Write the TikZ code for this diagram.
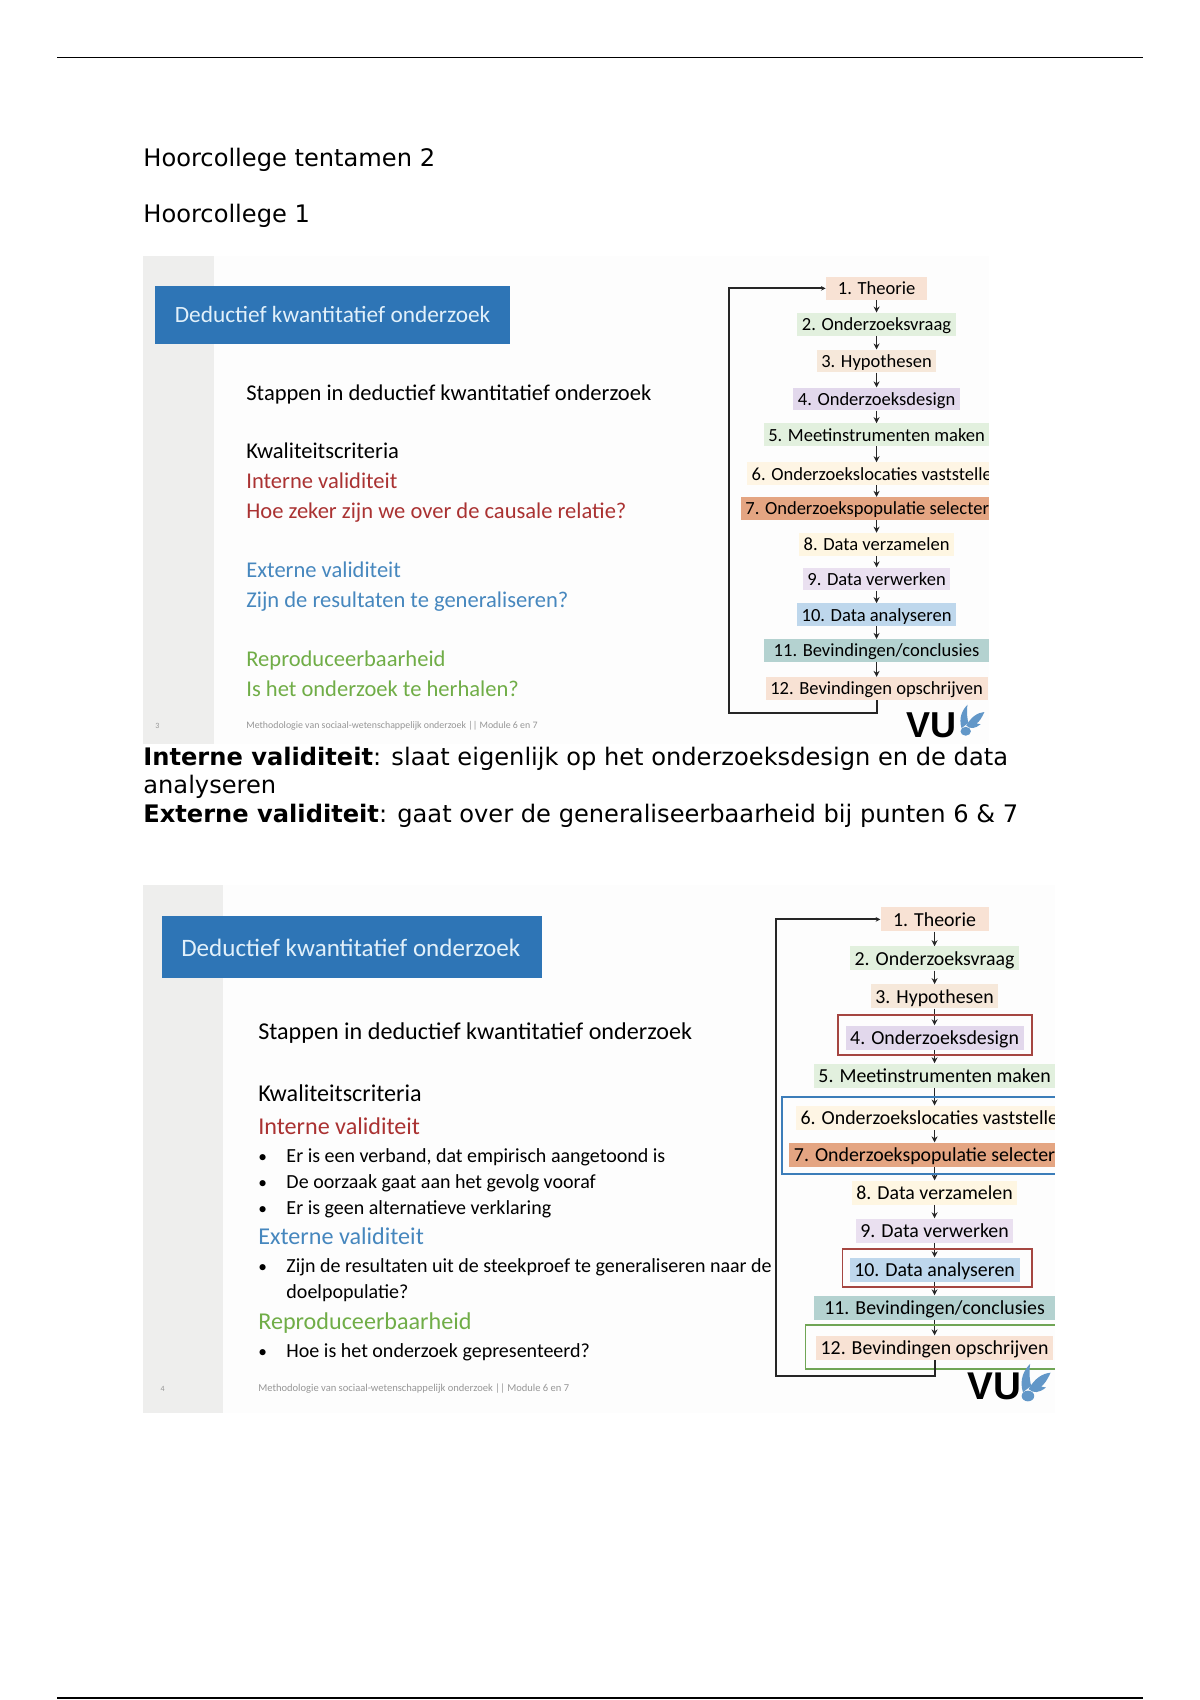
\documentclass[tikz,border=0pt]{standalone}
\usepackage{fontspec}
\usepackage{tikz}
\usetikzlibrary{arrows.meta, positioning}
\setmainfont{DejaVu Sans}
\newfontfamily\slidefont{Carlito}
\newfontfamily\logofont{Liberation Sans}
\definecolor{slidegray}{RGB}{238, 238, 237}
\definecolor{slidewhite}{RGB}{253, 253, 253}
\definecolor{titleblue}{RGB}{46, 117, 182}
\definecolor{titletext}{RGB}{225, 240, 250}
\definecolor{internred}{RGB}{170, 50, 50}
\definecolor{externblue}{RGB}{70, 135, 190}
\definecolor{reprogreen}{RGB}{112, 173, 71}
\definecolor{footgray}{RGB}{150, 150, 150}
\definecolor{boxred}{RGB}{165, 70, 65}
\definecolor{boxblue}{RGB}{60, 125, 185}
\definecolor{boxgreen}{RGB}{112, 165, 85}
\definecolor{stepa}{RGB}{248, 226, 212}
\definecolor{stepb}{RGB}{226, 240, 222}
\definecolor{stepc}{RGB}{246, 232, 218}
\definecolor{stepd}{RGB}{226, 216, 236}
\definecolor{stepe}{RGB}{226, 240, 222}
\definecolor{stepf}{RGB}{254, 245, 228}
\definecolor{stepg}{RGB}{228, 165, 130}
\definecolor{steph}{RGB}{254, 246, 226}
\definecolor{stepi}{RGB}{234, 224, 240}
\definecolor{stepj}{RGB}{190, 215, 236}
\definecolor{stepk}{RGB}{180, 210, 208}
\definecolor{stepl}{RGB}{248, 226, 212}
\tikzset{
  bodytext/.style={anchor=base west, inner sep=0pt, font=\fontsize{18.1}{22}\selectfont},
  slidetext/.style={anchor=base west, inner sep=0pt, yshift=-0.8pt, font=\slidefont\fontsize{#1}{#1}\selectfont},
  slidetitle/.style={anchor=west, inner sep=0pt, text=titletext, font=\slidefont\fontsize{#1}{#1}\selectfont},
  foottext/.style={anchor=base west, inner sep=0pt, text=footgray, font=\slidefont\fontsize{#1}{#1}\selectfont},
  stepbox/.style={inner xsep=3.5pt, inner ysep=0pt, minimum height=#1, text depth=0pt},
  widebox11/.style={inner xsep=7.5pt},
  flow/.style={-{Stealth[length=4.5pt, width=4.5pt]}, black!85, line width=0.9pt},
  feedback/.style={-{Stealth[length=3.5pt, width=3.5pt]}, black!85, line width=1.4pt},
  outline/.style={draw=#1, line width=1.3pt, fill=none},
  vubird/.pic={
    \fill[titleblue!75] (0.12,-0.1) .. controls (0,-0.5) and (0.15,-0.8) .. (0.35,-1) .. controls (0.3,-0.7) and (0.35,-0.45) .. (0.38,-0.3) -- cycle;
    \fill[titleblue!75] (0.3,-0.2) .. controls (0.5,-0.55) and (0.75,-0.7) .. (1,-0.72) .. controls (0.9,-0.5) and (0.8,-0.35) .. (0.7,-0.28) .. controls (0.75,-0.28) and (0.8,-0.25) .. (0.85,-0.25) .. controls (0.65,-0.08) and (0.45,-0.05) .. (0.3,-0.2) -- cycle;
    \fill[titleblue!75] (0.28,0.02) ellipse (0.2 and 0.17);
  }
}
\begin{document}
\begin{tikzpicture}[x=0.8131pt, y=-0.8131pt]
  \useasboundingbox (0,0) rectangle (1106.8,1568);
  \fill[white] (0,0) rectangle (1106.8,1568);

  % page rules and page text
  \draw[black, line width=1pt] (53,53) -- (1054,53);
  \draw[black, line width=1pt] (53,1566) -- (1054,1566);
  \node[bodytext] (kop) at (132,153.5) {Hoorcollege tentamen 2};
  \node[bodytext] (college) at (132,205) {Hoorcollege 1};
  \node[bodytext] (noteA) at (132,706) {\textbf{Interne validiteit}: slaat eigenlijk op het onderzoeksdesign en de data};
  \node[bodytext] (noteB) at (132,732) {analyseren};
  \node[bodytext] (noteC) at (132,758.5) {\textbf{Externe validiteit}: gaat over de generaliseerbaarheid bij punten 6 \& 7};

  % eerste dia
  \fill[slidewhite] (132,236) rectangle (912,686);
  \fill[slidegray] (132,236) rectangle (197,686);
  \fill[titleblue] (143,264) rectangle (470,317);
  \node[slidetitle=17.5] (titleA) at (161,290) {Deductief kwantitatief onderzoek};
  \node[slidetext=16.9] (stapA) at (227,368) {Stappen in deductief kwantitatief onderzoek};
  \node[slidetext=16.9] (kwalA) at (227,422) {Kwaliteitscriteria};
  \node[slidetext=16.9, text=internred] (intA) at (227,450) {Interne validiteit};
  \node[slidetext=16.9, text=internred] (intB) at (227,477) {Hoe zeker zijn we over de causale relatie?};
  \node[slidetext=16.9, text=externblue] (extA) at (227,532) {Externe validiteit};
  \node[slidetext=16.9, text=externblue] (extB) at (227,559) {Zijn de resultaten te generaliseren?};
  \node[slidetext=16.9, text=reprogreen] (repA) at (227,614) {Reproduceerbaarheid};
  \node[slidetext=16.9, text=reprogreen] (repB) at (227,641) {Is het onderzoek te herhalen?};
  \node[foottext=6] (numA) at (143,672) {3};
  \node[foottext=7.4] (footA) at (227,672) {Methodologie van sociaal-wetenschappelijk onderzoek || Module 6 en 7};

  % stappen eerste dia
  \begin{scope}
    \clip (132,236) rectangle (912,686);
    \foreach \i/\yy/\col/\txt in {1/266/stepa/1. Theorie, 2/299/stepb/2. Onderzoeksvraag, 3/333/stepc/3. Hypothesen, 4/368/stepd/4. Onderzoeksdesign, 5/401/stepe/5. Meetinstrumenten maken, 6/437/stepf/6. Onderzoekslocaties vaststellen, 7/469/stepg/7. Onderzoekspopulatie selecteren, 8/502/steph/8. Data verzamelen, 9/534/stepi/9. Data verwerken, 10/567/stepj/10. Data analyseren, 11/600/stepk/{11. Bevindingen/conclusies}, 12/635/stepl/12. Bevindingen opschrijven}
      \node[stepbox=17pt, minimum width=76pt, widebox\i/.try, fill=\col, font=\slidefont\fontsize{13.9}{13.9}\selectfont] (a\i) at (808.5,\yy) {\txt};
    \foreach \i [evaluate=\i as \j using int(\i+1)] in {1,...,11}
      \draw[flow] (a\i) -- (a\j);
  \end{scope}
  \coordinate (backA) at (672,658);
  \draw[feedback] (a12.south) |- (backA) |- (a1.west);
  \node[inner sep=0pt, anchor=base west, font=\logofont\bfseries\fontsize{27}{27}\selectfont] (vuA) at (836,680) {VU};
  \pic[scale=24] at (884,674) {vubird};

  % tweede dia
  \fill[slidewhite] (132,816) rectangle (973,1303);
  \fill[slidegray] (132,816) rectangle (206,1303);
  \fill[titleblue] (149,845) rectangle (500,902);
  \node[slidetitle=18.8] (titleB) at (167,874) {Deductief kwantitatief onderzoek};
  \node[slidetext=18.1] (stapC) at (238,958) {Stappen in deductief kwantitatief onderzoek};
  \node[slidetext=18.1] (kwalC) at (238,1015) {Kwaliteitscriteria};
  \node[slidetext=18.1, text=internred] (intC) at (238,1045) {Interne validiteit};
  \node[slidetext=15] (bulA) at (264,1071) {Er is een verband, dat empirisch aangetoond is};
  \node[slidetext=15] (bulB) at (264,1095) {De oorzaak gaat aan het gevolg vooraf};
  \node[slidetext=15] (bulC) at (264,1119) {Er is geen alternatieve verklaring};
  \node[slidetext=18.1, text=externblue] (extC) at (238,1147) {Externe validiteit};
  \node[slidetext=15] (bulD) at (264,1173) {Zijn de resultaten uit de steekproef te generaliseren naar de};
  \node[slidetext=15] (bulE) at (264,1197) {doelpopulatie?};
  \node[slidetext=18.1, text=reprogreen] (repC) at (238,1225) {Reproduceerbaarheid};
  \node[slidetext=15] (bulF) at (264,1251) {Hoe is het onderzoek gepresenteerd?};
  \foreach \n/\yy in {dotA/1071, dotB/1095, dotC/1119, dotD/1173, dotF/1251}
    \node[slidetext=13] (\n) at (238,\yy) {\textbullet};
  \node[foottext=6] (numB) at (148,1283) {4};
  \node[foottext=7.9] (footB) at (238,1283) {Methodologie van sociaal-wetenschappelijk onderzoek || Module 6 en 7};

  % stappen tweede dia
  \begin{scope}
    \clip (132,816) rectangle (973,1303);
    \foreach \i/\yy/\col/\txt in {1/848/stepa/1. Theorie, 2/884/stepb/2. Onderzoeksvraag, 3/919/stepc/3. Hypothesen, 4/957/stepd/4. Onderzoeksdesign, 5/992/stepe/5. Meetinstrumenten maken, 6/1031/stepf/6. Onderzoekslocaties vaststellen, 7/1065/stepg/7. Onderzoekspopulatie selecteren, 8/1100/steph/8. Data verzamelen, 9/1135/stepi/9. Data verwerken, 10/1171/stepj/10. Data analyseren, 11/1206/stepk/{11. Bevindingen/conclusies}, 12/1243/stepl/12. Bevindingen opschrijven}
      \node[stepbox=18pt, minimum width=81pt, widebox\i/.try, fill=\col, font=\slidefont\fontsize{14.9}{14.9}\selectfont] (b\i) at (862,\yy) {\txt};
    \foreach \i [evaluate=\i as \j using int(\i+1)] in {1,...,11}
      \draw[flow] (b\i) -- (b\j);
    \draw[outline=boxred] (773,936) rectangle (952,973);
    \draw[outline=boxblue] (721,1012) rectangle (990,1083);
    \draw[outline=boxred] (777,1152) rectangle (952,1187);
    \draw[outline=boxgreen] (743,1222) rectangle (990,1263);
  \end{scope}
  \coordinate (backB) at (716,1269);
  \draw[feedback] (b12.south) |- (backB) |- (b1.west);
  \node[inner sep=0pt, anchor=base west, font=\logofont\bfseries\fontsize{29}{29}\selectfont] (vuB) at (892,1291) {VU};
  \pic[scale=29] at (940,1287) {vubird};
\end{tikzpicture}
\end{document}
